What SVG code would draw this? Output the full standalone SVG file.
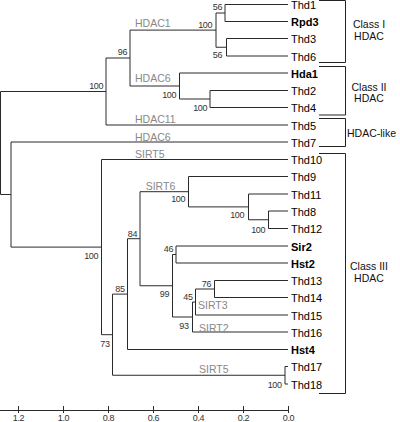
<svg xmlns="http://www.w3.org/2000/svg" width="400" height="422" viewBox="0 0 400 422">
<style>
.br{stroke:#2a2a2a;stroke-width:1;fill:none}
.bk{stroke:#222;stroke-width:1;fill:none}
.leaf{font-family:"Liberation Sans",Arial,sans-serif;font-size:11px;fill:#000}
.b{font-weight:bold}
.hum{font-family:"Liberation Sans",Arial,sans-serif;font-size:10.5px;fill:#888}
.sup{font-family:"Liberation Sans",Arial,sans-serif;font-size:9px;fill:#333;letter-spacing:-0.4px}
.cls{font-family:"Liberation Sans",Arial,sans-serif;font-size:10.5px;fill:#111;text-anchor:middle}
.tick{font-family:"Liberation Sans",Arial,sans-serif;font-size:9px;fill:#333;text-anchor:middle;letter-spacing:-0.4px}
</style>
<rect width="400" height="422" fill="#fff"/>
<g id="connectors">
<path class="br" d="M0.5 91.5V194.5M0.5 91.5H106M0.5 194.5H11"/>
<path class="br" d="M106 58V125M106 58H130M106 125H288"/>
<path class="br" d="M130 30.1V86M130 30.1H216M130 86H179.5"/>
<path class="br" d="M216 13V47.25M216 13H225M216 47.25H226.5"/>
<path class="br" d="M225 4.5V21.5M225 4.5H288M225 21.5H288"/>
<path class="br" d="M226.5 38.5V56M226.5 38.5H288M226.5 56H288"/>
<path class="br" d="M179.5 73V99M179.5 73H288M179.5 99H210"/>
<path class="br" d="M210 90.5V107.5M210 90.5H288M210 107.5H288"/>
<path class="br" d="M11 142V247.1M11 142H288M11 247.1H101.5"/>
<path class="br" d="M101.5 159.5V334.7M101.5 159.5H288M101.5 334.7H112.5"/>
<path class="br" d="M112.5 294.1V375.25M112.5 294.1H127.5M112.5 375.25H285"/>
<path class="br" d="M285 366.5V384M285 366.5H288M285 384H288"/>
<path class="br" d="M127.5 238.7V349.5M127.5 238.7H140M127.5 349.5H288"/>
<path class="br" d="M140 191.7V285.75M140 191.7H188.5M140 285.75H172.5"/>
<path class="br" d="M188.5 176.5V206.9M188.5 176.5H288M188.5 206.9H248.5"/>
<path class="br" d="M248.5 194V219.75M248.5 194H288M248.5 219.75H268.5"/>
<path class="br" d="M268.5 211V228.5M268.5 211H288M268.5 228.5H288"/>
<path class="br" d="M172.5 254.5V317M172.5 254.5H176M172.5 317H192.5"/>
<path class="br" d="M176 246V263M176 246H288M176 263H288"/>
<path class="br" d="M192.5 302V332M192.5 302H195.5M192.5 332H288"/>
<path class="br" d="M195.5 289V315M195.5 289H214.5M195.5 315H288"/>
<path class="br" d="M214.5 280.5V297.5M214.5 280.5H288M214.5 297.5H288"/>
</g>
<g id="leaves">
<g id="Thd1"><text class="leaf" x="291" y="9">Thd1</text></g>
<g id="Rpd3"><text class="leaf b" x="291" y="26">Rpd3</text></g>
<g id="Thd3"><text class="leaf" x="291" y="43">Thd3</text></g>
<g id="Thd6"><text class="leaf" x="291" y="60.5">Thd6</text></g>
<g id="Hda1"><text class="leaf b" x="291" y="77.5">Hda1</text></g>
<g id="Thd2"><text class="leaf" x="291" y="95">Thd2</text></g>
<g id="Thd4"><text class="leaf" x="291" y="112">Thd4</text></g>
<g id="Thd5"><text class="leaf" x="291" y="129.5">Thd5</text></g>
<g id="Thd7"><text class="leaf" x="291" y="146.5">Thd7</text></g>
<g id="Thd10"><text class="leaf" x="291" y="164">Thd10</text></g>
<g id="Thd9"><text class="leaf" x="291" y="181">Thd9</text></g>
<g id="Thd11"><text class="leaf" x="291" y="198.5">Thd11</text></g>
<g id="Thd8"><text class="leaf" x="291" y="215.5">Thd8</text></g>
<g id="Thd12"><text class="leaf" x="291" y="233">Thd12</text></g>
<g id="Sir2"><text class="leaf b" x="291" y="250.5">Sir2</text></g>
<g id="Hst2"><text class="leaf b" x="291" y="267.5">Hst2</text></g>
<g id="Thd13"><text class="leaf" x="291" y="285">Thd13</text></g>
<g id="Thd14"><text class="leaf" x="291" y="302">Thd14</text></g>
<g id="Thd15"><text class="leaf" x="291" y="319.5">Thd15</text></g>
<g id="Thd16"><text class="leaf" x="291" y="336.5">Thd16</text></g>
<g id="Hst4"><text class="leaf b" x="291" y="354">Hst4</text></g>
<g id="Thd17"><text class="leaf" x="291" y="371">Thd17</text></g>
<g id="Thd18"><text class="leaf" x="291" y="388.5">Thd18</text></g>
</g>
<g id="homologs">
<text class="hum" x="135" y="26.5">HDAC1</text>
<text class="hum" x="135" y="82">HDAC6</text>
<text class="hum" x="135" y="122.8">HDAC11</text>
<text class="hum" x="135" y="140.5">HDAC6</text>
<text class="hum" x="135" y="158.3">SIRT5</text>
<text class="hum" x="145.7" y="189.8">SIRT6</text>
<text class="hum" x="198" y="308.8">SIRT3</text>
<text class="hum" x="199" y="331.5">SIRT2</text>
<text class="hum" x="199" y="373">SIRT5</text>
</g>
<g id="support" text-anchor="end">
<text class="sup" x="222" y="10">56</text>
<text class="sup" x="222" y="58">56</text>
<text class="sup" x="212" y="28">100</text>
<text class="sup" x="127" y="55">96</text>
<text class="sup" x="103" y="89">100</text>
<text class="sup" x="176" y="97.5">100</text>
<text class="sup" x="207" y="111">100</text>
<text class="sup" x="98" y="258.5">100</text>
<text class="sup" x="137" y="236.5">84</text>
<text class="sup" x="185" y="202">100</text>
<text class="sup" x="244" y="218">100</text>
<text class="sup" x="265" y="232.5">100</text>
<text class="sup" x="173" y="252">46</text>
<text class="sup" x="169" y="297">99</text>
<text class="sup" x="192.5" y="300">45</text>
<text class="sup" x="211" y="287">76</text>
<text class="sup" x="188.5" y="329">93</text>
<text class="sup" x="124.5" y="291.5">85</text>
<text class="sup" x="109.5" y="346.5">73</text>
<text class="sup" x="281.5" y="387.5">100</text>
</g>
<g id="classI"><path class="bk" d="M319 0.5H345.5V62.5H319"/><text class="cls" x="369" y="28">Class I</text><text class="cls" x="369" y="39.5">HDAC</text></g>
<g id="classII"><path class="bk" d="M319 66.5H345.5V115H319"/><text class="cls" x="369" y="90.5">Class II</text><text class="cls" x="369" y="102">HDAC</text></g>
<g id="hdaclike"><path class="bk" d="M319 118.5H345.5V146.5H319"/><text class="cls" x="347" y="136.5" style="text-anchor:start">HDAC-like</text></g>
<g id="classIII"><path class="bk" d="M319 153.5H345.5V393.5H319"/><text class="cls" x="369" y="270">Class III</text><text class="cls" x="369" y="282">HDAC</text></g>
<g id="axis">
<path class="br" d="M0 410.5H288.5M18.5 406V413M63.5 406V413M108.5 406V413M153.5 406V413M198.5 406V413M243.5 406V413M288.5 406V413"/>
<text class="tick" x="18.5" y="421">1.2</text>
<text class="tick" x="63.5" y="421">1.0</text>
<text class="tick" x="108.5" y="421">0.8</text>
<text class="tick" x="153.5" y="421">0.6</text>
<text class="tick" x="198.5" y="421">0.4</text>
<text class="tick" x="243.5" y="421">0.2</text>
<text class="tick" x="288.5" y="421">0.0</text>
</g>
</svg>
